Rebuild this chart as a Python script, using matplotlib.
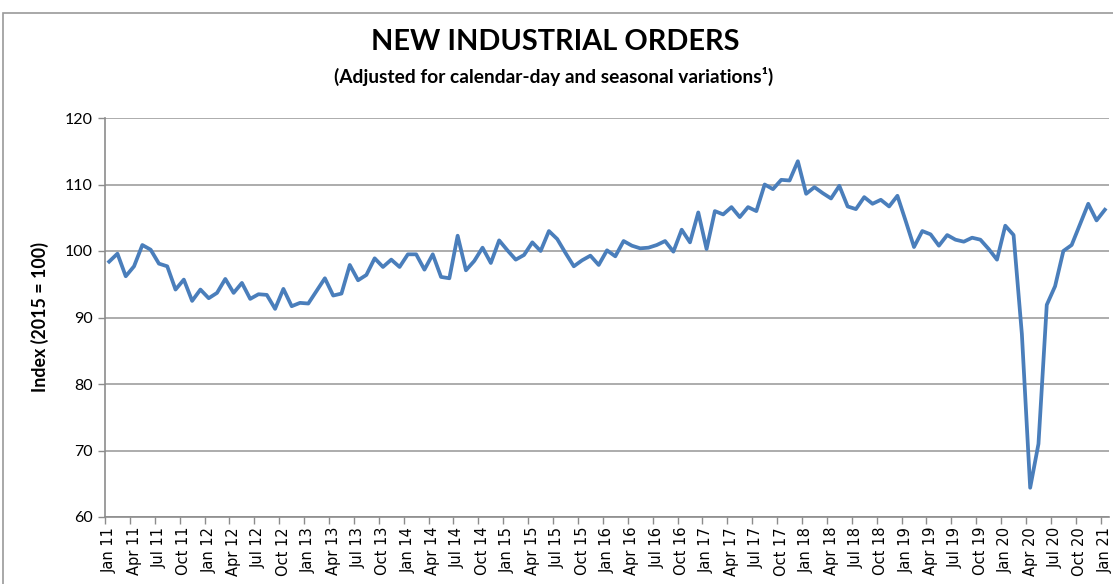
import matplotlib
matplotlib.use("Agg")
import matplotlib.pyplot as plt
from matplotlib.patches import Rectangle

# ---- data -------------------------------------------------------------
years = list(range(11, 22))
months = ["Jan", "Feb", "Mar", "Apr", "May", "Jun",
          "Jul", "Aug", "Sep", "Oct", "Nov", "Dec"]
categories = [f"{m} {y}" for y in years for m in months][:121]   # Jan 11 .. Jan 21

index_values = [
    98.4, 99.6, 96.2, 97.7, 100.9, 100.2, 98.1, 97.7, 94.2, 95.7, 92.5, 94.2,   # 2011
    92.9, 93.7, 95.8, 93.7, 95.2, 92.8, 93.5, 93.4, 91.3, 94.3, 91.7, 92.2,     # 2012
    92.1, 94.0, 95.9, 93.3, 93.6, 97.9, 95.6, 96.4, 98.9, 97.6, 98.7, 97.6,     # 2013
    99.5, 99.5, 97.2, 99.5, 96.1, 95.9, 102.3, 97.1, 98.5, 100.5, 98.2, 101.6,  # 2014
    100.1, 98.7, 99.4, 101.3, 100.0, 103.0, 101.8, 99.7, 97.7, 98.6, 99.3, 97.9,  # 2015
    100.1, 99.2, 101.5, 100.8, 100.4, 100.5, 100.9, 101.5, 99.9, 103.2, 101.3, 105.8,  # 2016
    100.3, 106.0, 105.5, 106.6, 105.1, 106.6, 106.0, 110.0, 109.3, 110.7, 110.6, 113.5,  # 2017
    108.6, 109.6, 108.7, 107.9, 109.8, 106.7, 106.3, 108.1, 107.1, 107.7, 106.7, 108.3,  # 2018
    104.5, 100.6, 103.0, 102.5, 100.8, 102.4, 101.7, 101.4, 102.0, 101.7, 100.3, 98.7,  # 2019
    103.8, 102.4, 87.5, 64.4, 71.0, 91.9, 94.7, 100.0, 100.9, 104.0, 107.1, 104.6,   # 2020
    106.2,                                                                           # 2021
]

y_ticks = [60, 70, 80, 90, 100, 110, 120]
title = "NEW INDUSTRIAL ORDERS"
subtitle = "(Adjusted for calendar-day and seasonal variations\u00b9)"
ylabel = "Index (2015 = 100)"

# ---- figure -----------------------------------------------------------
W, H = 1113, 584
fig = plt.figure(figsize=(W / 100, H / 100), dpi=100)
font = "Lato"

# outer chart border (Excel style)
fig.patches.append(Rectangle((3 / W, -0.2), 1.2, 1 - 13 / H + 0.2,
                             transform=fig.transFigure, fill=False,
                             edgecolor="#9a9a9a", linewidth=1.2))

ax = fig.add_axes([105 / W, 1 - 517 / H, (1109 - 105) / W, (517 - 118) / H])

x = list(range(len(index_values)))
ax.plot(x, index_values, color="#4a7ebb", linewidth=2.7, solid_joinstyle="round")

ax.set_xlim(-0.5, len(index_values) - 0.5)
ax.set_ylim(60, 120)
ax.set_yticks(y_ticks)
ax.set_yticklabels([str(v) for v in y_ticks], fontfamily=font, fontsize=11.5)
ax.grid(axis="y", color="#a6a6a6", linewidth=1.3)
ax.set_axisbelow(True)

# category tick marks between categories, labels every 3 months
ax.set_xticks([i - 0.5 for i in range(0, len(index_values) + 1, 3)])
ax.set_xticklabels([])
ax.tick_params(axis="x", length=5, color="#8c8c8c", width=1)
ax.tick_params(axis="y", length=5, color="#8c8c8c", width=1, pad=4)
for i in range(0, len(index_values), 3):
    ax.text(i, -0.025, categories[i], transform=ax.get_xaxis_transform(),
            rotation=90, ha="center", va="top", fontsize=10.5,
            fontfamily="DejaVu Sans")

for s in ["top", "right"]:
    ax.spines[s].set_visible(False)
for s in ["left", "bottom"]:
    ax.spines[s].set_color("#8c8c8c")
    ax.spines[s].set_linewidth(1.2)

ax.set_ylabel(ylabel, fontfamily=font, fontweight="bold", fontsize=12.8, labelpad=11)

fig.text(555 / W, 1 - 42 / H, title, ha="center", va="center",
         fontfamily=font, fontweight="bold", fontsize=20.8)
fig.text(554 / W, 1 - 76 / H, subtitle, ha="center", va="center",
         fontfamily=[font, "DejaVu Sans"], fontweight="bold", fontsize=13.8)

fig.savefig("out.png", dpi=100)
